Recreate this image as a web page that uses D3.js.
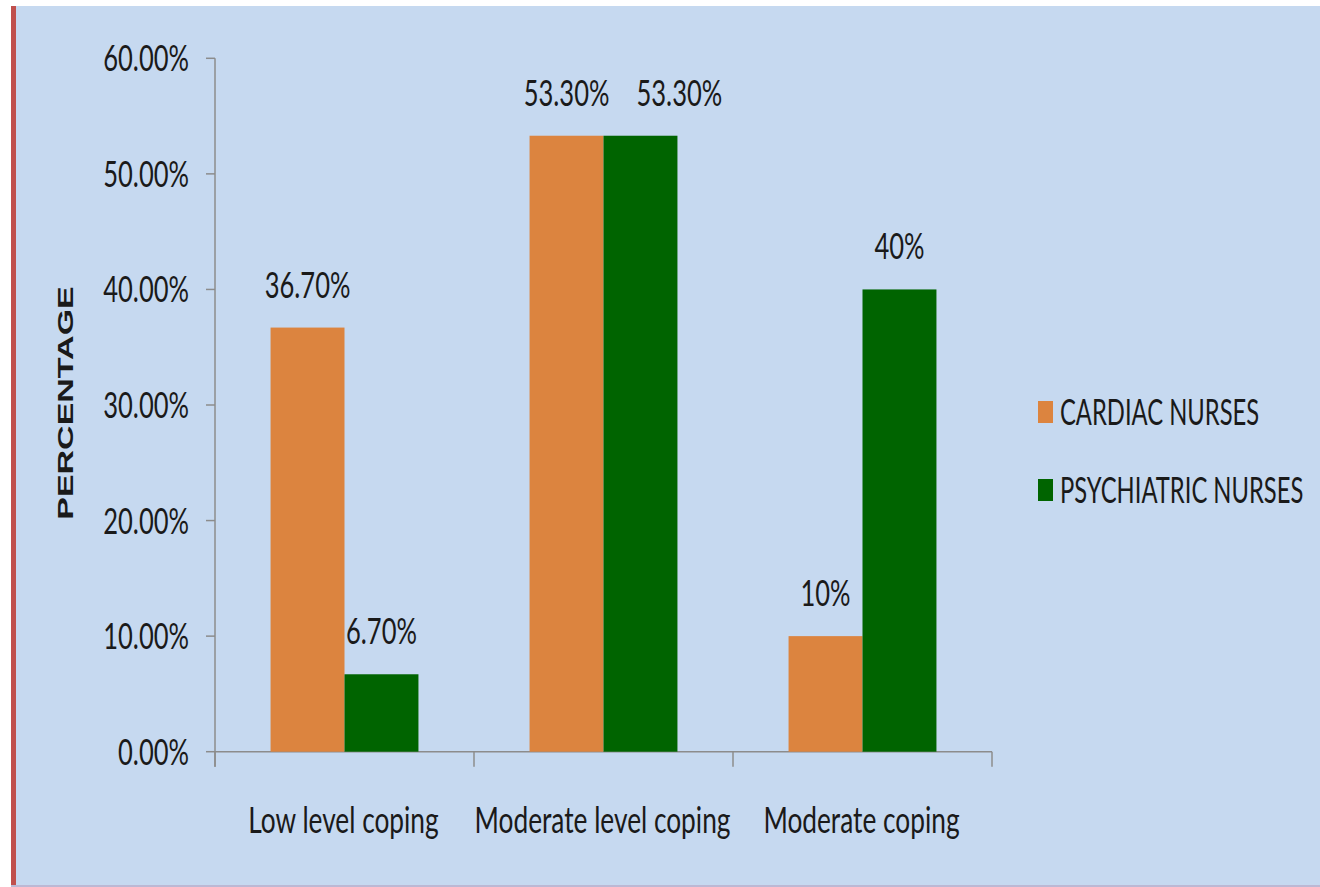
<!DOCTYPE html>
<html>
<head>
<meta charset="utf-8">
<script src="https://cdn.jsdelivr.net/npm/d3@7/dist/d3.min.js"></script>
<style>
  html, body { margin: 0; padding: 0; background: #ffffff; }
  svg { display: block; }
  text { font-family: Lato, "Open Sans", sans-serif; fill: #1a1a1a; }
</style>
</head>
<body>
<svg id="chart" width="1320" height="887"></svg>
<script>
// Coping levels of cardiac vs psychiatric nurses
const categories = ["Low level coping", "Moderate level coping", "Moderate coping"];
const seriesNames = ["CARDIAC NURSES", "PSYCHIATRIC NURSES"];
const cardiacValues = [36.7, 53.3, 10];
const psychiatricValues = [6.7, 53.3, 40];
const valueLabels = [["36.70%", "6.70%"], ["53.30%", "53.30%"], ["10%", "40%"]];
const yTicks = [0, 10, 20, 30, 40, 50, 60];
const yTickLabels = ["0.00%", "10.00%", "20.00%", "30.00%", "40.00%", "50.00%", "60.00%"];
const yTitle = "PERCENTAGE";
const colors = ["#dc843f", "#006400"];

const series = [cardiacValues, psychiatricValues];
const svg = d3.select("#chart");

// text is drawn narrow (condensed horizontally)
const sx = 0.73;      // mixed-case labels
const sxNum = 0.71;   // numeric labels
const sxCaps = 0.66;  // upper-case legend labels
const fontSize = 36;

// frame
svg.append("rect").attr("x", 11).attr("y", 6).attr("width", 1309).attr("height", 880)
  .attr("fill", "#c6d9f0");
svg.append("rect").attr("x", 11).attr("y", 6).attr("width", 5).attr("height", 880)
  .attr("fill", "#c0504d");
svg.append("rect").attr("x", 11).attr("y", 885).attr("width", 1309).attr("height", 2)
  .attr("fill", "#bcb8d4");

const plot = { left: 215, right: 992, top: 58.3, bottom: 751.7 };

const x0 = d3.scaleBand().domain(categories).range([plot.left, plot.right]).padding(0);
const groupFrac = 0.571;
const x1 = d3.scaleBand().domain(seriesNames)
  .range([0, x0.bandwidth() * groupFrac]).padding(0);
const groupOffset = x0.bandwidth() * (1 - groupFrac) / 2;
const y = d3.scaleLinear().domain([0, 60]).range([plot.bottom, plot.top]);

const axisColor = "#8c8c8c";

// y axis line + ticks
svg.append("line").attr("x1", plot.left).attr("x2", plot.left)
  .attr("y1", plot.top).attr("y2", plot.bottom + 15)
  .attr("stroke", axisColor).attr("stroke-width", 1.5);
svg.selectAll(".ytick").data(yTicks).join("line")
  .attr("x1", plot.left - 9).attr("x2", plot.left)
  .attr("y1", d => y(d)).attr("y2", d => y(d))
  .attr("stroke", axisColor).attr("stroke-width", 1.5);
svg.selectAll(".ylab").data(yTicks).join("text")
  .attr("transform", d => `translate(${plot.left - 26},${y(d) + 13}) scale(${sxNum},1)`)
  .attr("text-anchor", "end").attr("font-size", fontSize)
  .text((d, i) => yTickLabels[i]);

// x axis line + ticks at band edges
svg.append("line").attr("x1", plot.left).attr("x2", plot.right)
  .attr("y1", plot.bottom).attr("y2", plot.bottom)
  .attr("stroke", axisColor).attr("stroke-width", 1.5);
const edges = categories.map(c => x0(c)).concat([plot.right]);
svg.selectAll(".xtick").data(edges).join("line")
  .attr("x1", d => d).attr("x2", d => d)
  .attr("y1", plot.bottom).attr("y2", plot.bottom + 15)
  .attr("stroke", axisColor).attr("stroke-width", 1.5);
svg.selectAll(".xlab").data(categories).join("text")
  .attr("transform", d => `translate(${x0(d) + x0.bandwidth() / 2 - 1},833) scale(${sx},1)`)
  .attr("text-anchor", "middle").attr("font-size", fontSize)
  .text(d => d);

// bars with value labels; a label that would collide with its neighbour
// (same height, overlapping horizontally) is pushed to the right
const labelGap = 27;
const groups = svg.selectAll(".grp").data(categories).join("g")
  .attr("transform", d => `translate(${x0(d) + groupOffset},0)`);
groups.each(function (cat, ci) {
  const g = d3.select(this);
  let prev = null;
  seriesNames.forEach((s, si) => {
    const v = series[si][ci];
    g.append("rect")
      .attr("x", x1(s)).attr("width", x1.bandwidth())
      .attr("y", y(v)).attr("height", y(0) - y(v))
      .attr("fill", colors[si]);
    const t = g.append("text")
      .attr("text-anchor", "middle").attr("font-size", fontSize)
      .text(valueLabels[ci][si]);
    const w = t.node().getComputedTextLength() * sxNum;
    const ly = y(v) - 30;
    let cx = x1(s) + x1.bandwidth() / 2;
    if (prev && Math.abs(prev.y - ly) < fontSize &&
        cx - w / 2 < prev.right + labelGap / 2) {
      cx = prev.right + labelGap + w / 2;
    }
    prev = { right: cx + w / 2, y: ly };
    t.attr("transform", `translate(${cx},${ly}) scale(${sxNum},1)`);
  });
});

// y axis title
svg.append("text")
  .attr("transform", `translate(73,403) scale(0.63,1) rotate(-90)`)
  .attr("text-anchor", "middle").attr("font-size", 34)
  .attr("font-weight", "bold")
  .style("font-family", "Arial, 'Liberation Sans', sans-serif")
  .text(yTitle);

// legend
const legend = svg.selectAll(".leg").data(seriesNames).join("g")
  .attr("transform", (d, i) => `translate(1038,${412 + i * 78})`);
legend.append("rect").attr("x", 0).attr("y", -11).attr("width", 15).attr("height", 22)
  .attr("fill", (d, i) => colors[i]);
legend.append("text")
  .attr("transform", `translate(22,13) scale(${sxCaps},1)`)
  .attr("font-size", fontSize)
  .text(d => d);
</script>
</body>
</html>
